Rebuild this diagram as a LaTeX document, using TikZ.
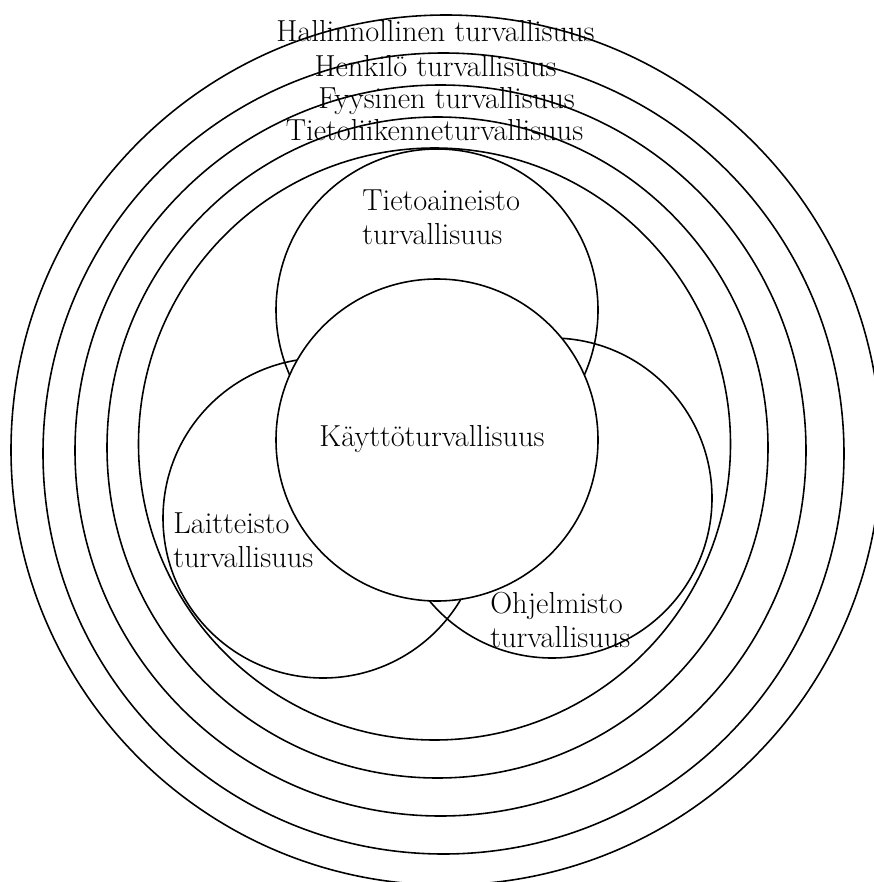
\documentclass[tikz,border=0pt]{standalone}
\usepackage{tikz}

\tikzset{
  ring/.style={line width=0.9pt},
  lbl/.style={font=\fontsize{17.3}{18.8}\selectfont, inner sep=0pt, align=left}
}

\begin{document}
\begin{tikzpicture}[x=0.02cm,y=-0.02cm]
  \useasboundingbox (0,0) rectangle (874,882);

  % security layers, outer to inner
  \foreach \cx/\cy/\r in {446/450/435, 443.5/453.5/400.5, 440.5/450.5/365.5,
                          437.5/447.5/330.5, 434.5/444/296} {
      \draw[ring] (\cx,\cy) circle (\r);
  }

  % the three areas and the core
  \draw[ring] (437,310) circle (161);
  \draw[ring] (323,518) circle (160);
  \draw[ring] (552,498) circle (160);
  \draw[ring, fill=white] (437,440) circle (161);

  \node[lbl, anchor=base] (hallinnollinen) at (435.5,42) {Hallinnollinen turvallisuus};
  \node[lbl, anchor=base] (henkilo) at (435.5,77) {Henkilö turvallisuus};
  \node[lbl, anchor=base] (fyysinen) at (446.5,109) {Fyysinen turvallisuus};
  \node[lbl, anchor=base] (tietoliikenne) at (434.5,140) {Tietoliikenneturvallisuus};

  % two-line labels: base is the last line
  \node[lbl, anchor=base west] (tietoaineisto) at (362,244) {Tietoaineisto\\turvallisuus};
  \node[lbl, anchor=base west] (laitteisto) at (173,567) {Laitteisto\\turvallisuus};
  \node[lbl, anchor=base west] (ohjelmisto) at (490,647) {Ohjelmisto\\turvallisuus};
  \node[lbl, anchor=base] (kaytto) at (432,446) {Käyttöturvallisuus};
\end{tikzpicture}
\end{document}
